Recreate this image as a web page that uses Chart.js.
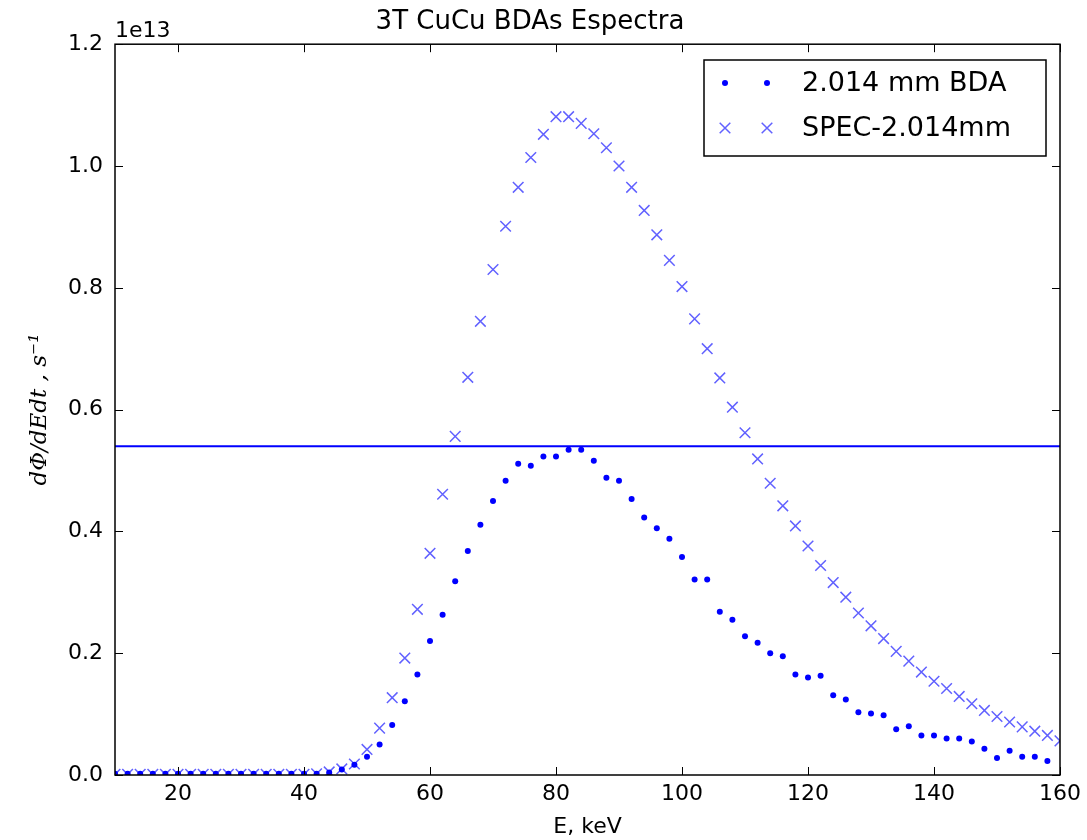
<!DOCTYPE html>
<html>
<head>
    <title>3T CuCu BDAs Espectra</title>
    <script src="https://cdn.jsdelivr.net/npm/chart.js"></script>
    <style>
        html, body { margin: 0; padding: 0; background: #fff; }
        #wrap { width: 1087px; height: 840px; }
    </style>
</head>
<body>
    <div id="wrap"><canvas id="spectraChart" width="1087" height="840"></canvas></div>

    <script>
        // energies, keV
        const energies = [10, 12, 14, 16, 18, 20, 22, 24, 26, 28, 30, 32, 34, 36, 38, 40,
            42, 44, 46, 48, 50, 52, 54, 56, 58, 60, 62, 64, 66, 68, 70, 72, 74, 76, 78, 80,
            82, 84, 86, 88, 90, 92, 94, 96, 98, 100, 102, 104, 106, 108, 110, 112, 114, 116, 118, 120,
            122, 124, 126, 128, 130, 132, 134, 136, 138, 140, 142, 144, 146, 148, 150, 152, 154, 156, 158, 160];

        // dPhi/dEdt in units of 1e13 s^-1
        const bdaValues = [0.002, 0.002, 0.002, 0.002, 0.002, 0.002, 0.002, 0.002, 0.002, 0.002, 0.002, 0.002, 0.002, 0.002, 0.002, 0.002,
            0.002, 0.004, 0.009, 0.017, 0.030, 0.050, 0.082, 0.121, 0.165, 0.220, 0.263, 0.318, 0.368, 0.411, 0.450, 0.483, 0.511, 0.508, 0.523, 0.523,
            0.534, 0.534, 0.516, 0.488, 0.483, 0.453, 0.423, 0.405, 0.388, 0.358, 0.321, 0.321, 0.268, 0.255, 0.228, 0.217, 0.200, 0.195, 0.165, 0.160,
            0.163, 0.131, 0.124, 0.103, 0.101, 0.098, 0.075, 0.080, 0.065, 0.065, 0.060, 0.060, 0.055, 0.043, 0.028, 0.040, 0.030, 0.030, 0.023, null];

        const specValues = [0.001, 0.001, 0.001, 0.001, 0.001, 0.001, 0.001, 0.001, 0.001, 0.001, 0.001, 0.001, 0.001, 0.001, 0.001, 0.001,
            0.002, 0.005, 0.010, 0.018, 0.042, 0.077, 0.127, 0.192, 0.272, 0.364, 0.461, 0.556, 0.653, 0.745, 0.830, 0.901, 0.965, 1.014, 1.052, 1.081,
            1.081, 1.070, 1.053, 1.030, 1.000, 0.965, 0.927, 0.887, 0.845, 0.802, 0.749, 0.700, 0.652, 0.604, 0.562, 0.519, 0.479, 0.442, 0.409, 0.376,
            0.344, 0.316, 0.292, 0.266, 0.245, 0.224, 0.203, 0.187, 0.169, 0.154, 0.142, 0.129, 0.117, 0.106, 0.096, 0.087, 0.079, 0.072, 0.065, 0.056];

        const levelLine = 0.54;
        const xRange = [10, 160];
        const yRange = [0, 1.2];
        const xTickValues = [20, 40, 60, 80, 100, 120, 140, 160];
        const yTickValues = [0.0, 0.2, 0.4, 0.6, 0.8, 1.0, 1.2];

        const seriesLabels = ['2.014 mm BDA', 'SPEC-2.014mm'];

        const toPoints = (ys) => energies.map((x, i) => ({ x: x, y: ys[i] }));

        // matplotlib-like frame, inward ticks, offset text and legend
        const framePlugin = {
            id: 'frame',
            afterDraw(chart) {
                const ctx = chart.ctx;
                const a = chart.chartArea;
                const xs = chart.scales.x, ys = chart.scales.y;
                ctx.save();
                ctx.strokeStyle = '#000';
                ctx.lineWidth = 1.5;
                ctx.strokeRect(a.left, a.top, a.right - a.left, a.bottom - a.top);
                ctx.lineWidth = 1;
                ctx.beginPath();
                xs.ticks.forEach(t => {
                    const px = Math.round(xs.getPixelForValue(t.value)) + 0.5;
                    ctx.moveTo(px, a.bottom); ctx.lineTo(px, a.bottom - 8);
                    ctx.moveTo(px, a.top); ctx.lineTo(px, a.top + 8);
                });
                ys.ticks.forEach(t => {
                    const py = Math.round(ys.getPixelForValue(t.value)) + 0.5;
                    ctx.moveTo(a.left, py); ctx.lineTo(a.left + 8, py);
                    ctx.moveTo(a.right, py); ctx.lineTo(a.right - 8, py);
                });
                ctx.stroke();

                ctx.fillStyle = '#000';
                ctx.font = '22px "DejaVu Sans"';
                ctx.textAlign = 'left';
                ctx.textBaseline = 'alphabetic';
                ctx.fillText('1e13', a.left, a.top - 7);

                // legend box
                const bx = 704, by = 60, bw = 342, bh = 96;
                ctx.fillStyle = '#fff';
                ctx.fillRect(bx, by, bw, bh);
                ctx.lineWidth = 1.5;
                ctx.strokeStyle = '#000';
                ctx.strokeRect(bx, by, bw, bh);
                const rows = [83, 128];
                chart.data.datasets.slice(0, 2).forEach((ds, i) => {
                    [725, 767].forEach(mx => {
                        ctx.strokeStyle = ds.borderColor;
                        ctx.fillStyle = ds.backgroundColor;
                        ctx.lineWidth = ds.borderWidth;
                        Chart.helpers.drawPoint(ctx, {
                            pointStyle: ds.pointStyle, radius: ds.pointRadius, rotation: 0, borderWidth: ds.borderWidth
                        }, mx, rows[i]);
                    });
                    ctx.fillStyle = '#000';
                    ctx.font = '27px "DejaVu Sans"';
                    ctx.textBaseline = 'middle';
                    ctx.fillText(ds.label, 802, rows[i] + 1);
                });
                ctx.restore();
            }
        };

        new Chart(document.getElementById('spectraChart'), {
            type: 'scatter',
            data: {
                datasets: [
                    {
                        label: seriesLabels[0],
                        data: toPoints(bdaValues),
                        pointStyle: 'circle',
                        pointRadius: 3,
                        borderWidth: 0,
                        borderColor: '#0000ff',
                        backgroundColor: '#0000ff'
                    },
                    {
                        label: seriesLabels[1],
                        data: toPoints(specValues),
                        pointStyle: 'crossRot',
                        pointRadius: 7.5,
                        borderWidth: 1.5,
                        borderColor: 'rgba(0, 0, 255, 0.62)',
                        backgroundColor: 'rgba(0, 0, 255, 0.62)'
                    },
                    {
                        label: 'level',
                        type: 'line',
                        data: [{ x: xRange[0], y: levelLine }, { x: xRange[1], y: levelLine }],
                        borderColor: '#0000ff',
                        borderWidth: 2,
                        pointRadius: 0,
                        showLine: true
                    }
                ]
            },
            options: {
                responsive: false,
                animation: false,
                layout: { padding: { top: 0, right: 27, left: 0, bottom: 0 } },
                plugins: {
                    legend: { display: false },
                    tooltip: { enabled: false },
                    title: {
                        display: true,
                        text: '3T CuCu BDAs Espectra',
                        color: '#000',
                        font: { family: 'DejaVu Sans', size: 26, weight: 'normal' },
                        padding: { top: 7, bottom: 6 }
                    }
                },
                scales: {
                    x: {
                        type: 'linear',
                        min: xRange[0],
                        max: xRange[1],
                        afterBuildTicks: (s) => { s.ticks = xTickValues.map(v => ({ value: v })); },
                        afterFit: (s) => { s.height = 65; },
                        grid: { display: false, drawTicks: false },
                        border: { display: false },
                        ticks: {
                            color: '#000',
                            font: { family: 'DejaVu Sans', size: 22 },
                            padding: 6,
                            maxRotation: 0,
                            callback: (v) => String(v)
                        },
                        title: {
                            display: true,
                            text: 'E, keV',
                            color: '#000',
                            font: { family: 'DejaVu Sans', size: 22 },
                            padding: { top: 0, bottom: 0 }
                        }
                    },
                    y: {
                        type: 'linear',
                        min: yRange[0],
                        max: yRange[1],
                        afterBuildTicks: (s) => { s.ticks = yTickValues.map(v => ({ value: v })); },
                        afterFit: (s) => { s.width = 115; },
                        grid: { display: false, drawTicks: false },
                        border: { display: false },
                        ticks: {
                            color: '#000',
                            font: { family: 'DejaVu Sans', size: 22 },
                            padding: 12,
                            callback: (v) => Number(v).toFixed(1)
                        },
                        title: {
                            display: true,
                            text: 'dΦ/dEdt , s⁻¹',
                            color: '#000',
                            font: { family: 'DejaVu Serif', size: 23, style: 'italic' },
                            padding: { top: 26, bottom: 0 }
                        }
                    }
                }
            },
            plugins: [framePlugin]
        });
    </script>
</body>
</html>
